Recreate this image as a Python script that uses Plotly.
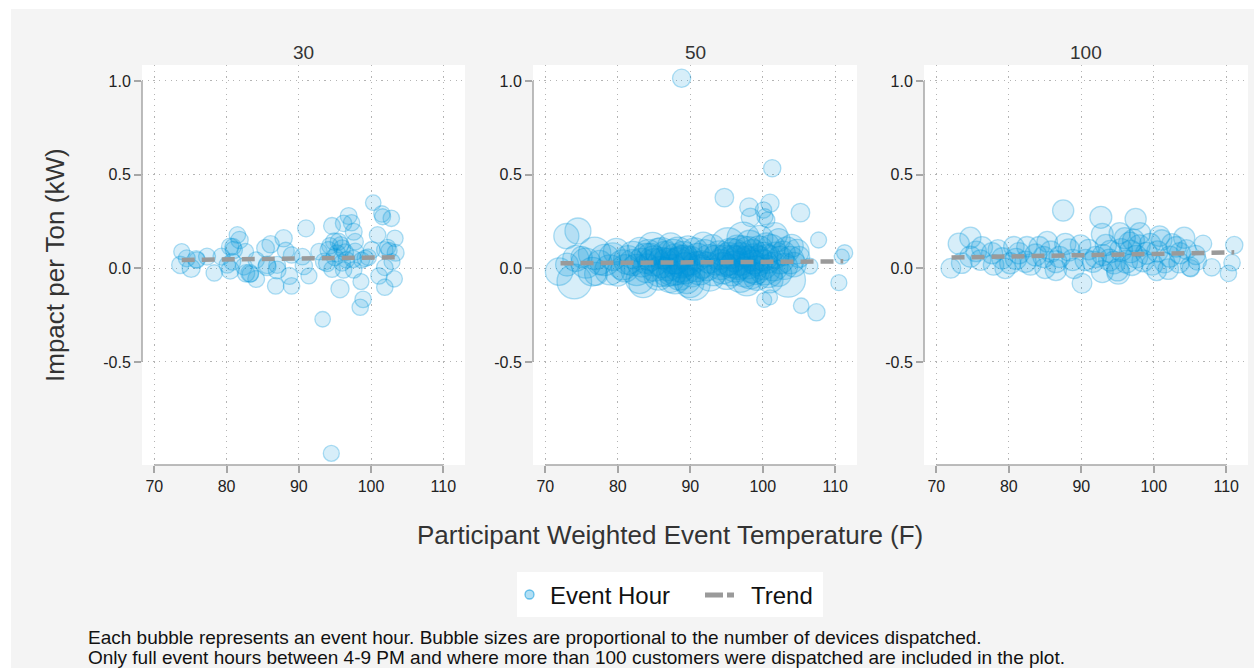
import plotly.graph_objects as go

# Panel labels (dispatch group)
panels = ["30", "50", "100"]

# Group 30: event temperature (F), impact per ton (kW), devices dispatched
temp_30 = [
    73.6, 73.8, 74.5, 75.1, 75.8, 75.9, 77.3, 78.3, 79.3, 80.1,
    80.5, 80.5, 80.8, 81.0, 81.5, 81.8, 80.9, 82.4, 82.6, 82.7,
    83.2, 83.3, 84.1, 84.1, 85.4, 86.1, 85.6, 85.6, 87.0, 87.0,
    86.8, 87.9, 88.2, 89.0, 88.7, 89.0, 90.5, 90.7, 91.0, 91.4,
    92.8, 93.5, 93.9, 94.1, 94.3, 94.6, 94.6, 94.9, 95.5, 95.8,
    95.0, 95.7, 96.0, 96.2, 96.4, 96.2, 96.9, 97.3, 97.6, 97.8,
    97.8, 97.5, 97.6, 98.7, 98.6, 98.9, 98.5, 99.2, 99.6, 100.1,
    100.3, 100.9, 101.5, 101.6, 101.9, 102.3, 102.8, 102.5, 103.3, 103.4,
    102.9, 101.9, 101.1, 101.9, 103.2, 93.3, 94.5, 95.3, 96.6, 96.0,
]
impact_30 = [
    0.018, 0.089, 0.053, 0.0, 0.048, 0.044, 0.062, -0.025, 0.062, 0.018,
    -0.009, 0.115, 0.035, 0.098, 0.178, 0.151, 0.115, 0.009, 0.089, -0.027,
    -0.027, -0.03, -0.057, 0.044, 0.107, 0.128, 0.009, 0.018, 0.018, -0.009,
    -0.094, 0.16, 0.094, 0.071, -0.041, -0.094, 0.062, 0.012, 0.213, -0.041,
    0.089, 0.035, 0.027, 0.098, 0.12, 0.226, -0.005, 0.142, 0.142, 0.125,
    0.06, -0.109, 0.107, 0.24, 0.085, -0.009, 0.279, 0.243, 0.195, 0.142,
    0.089, 0.05, -0.009, 0.044, -0.071, -0.166, -0.208, 0.053, 0.059, 0.098,
    0.35, 0.178, 0.29, 0.275, 0.098, 0.112, 0.267, 0.095, 0.16, 0.083,
    0.035, 0.005, -0.041, -0.101, -0.056, -0.272, -0.988, 0.08, 0.045, 0.03,
]
devices_30 = [
    200, 170, 190, 220, 200, 180, 190, 180, 190, 180,
    220, 200, 190, 200, 180, 200, 180, 190, 180, 200,
    210, 180, 190, 180, 210, 200, 220, 200, 190, 210,
    180, 200, 190, 180, 190, 180, 180, 200, 190, 170,
    180, 200, 190, 190, 180, 190, 180, 200, 190, 180,
    200, 220, 190, 180, 190, 180, 190, 180, 190, 180,
    190, 200, 180, 170, 170, 180, 180, 180, 180, 190,
    160, 180, 180, 170, 180, 170, 180, 170, 180, 190,
    170, 180, 180, 180, 180, 160, 170, 190, 180, 190,
]

# Group 50
temp_50 = [
    88.8, 101.3, 94.7, 98.1, 101.0, 98.3, 100.1, 100.3, 100.6, 105.2,
    72.9, 74.5, 107.7, 111.3, 110.9, 106.5, 110.5, 100.2, 101.0, 105.3,
    107.4, 71.9, 74.0, 74.2, 75.6, 76.8, 76.5, 78.2, 78.9, 79.3,
    80.7, 81.4, 82.1, 82.6, 83.0, 83.5, 83.9, 84.8, 85.1, 85.8,
    87.2, 87.6, 88.1, 88.8, 89.5, 90.6, 90.9, 90.5, 89.9, 91.8,
    91.3, 92.7, 93.6, 95.2, 94.5, 95.9, 96.9, 97.3, 98.0, 98.5,
    97.8, 99.6, 100.1, 100.3, 101.7, 102.2, 101.2, 101.5, 102.4, 103.3,
    103.8, 104.7, 103.5, 102.2, 101.0, 99.2, 73.0, 75.0, 77.5, 77.0,
    79.8, 80.0, 81.0, 82.0, 83.0, 84.0, 84.5, 85.5, 86.2, 86.5,
    86.8, 87.3, 88.0, 88.5, 89.0, 89.3, 90.0, 90.2, 91.0, 92.0,
    92.3, 93.0, 93.2, 94.0, 94.8, 95.0, 95.5, 96.2, 96.5, 97.0,
    97.5, 98.2, 98.8, 99.0, 99.5, 100.0, 100.5, 100.8, 101.8, 102.8,
    103.0, 104.0, 104.3, 105.0, 85.0, 85.6, 86.0, 86.9, 87.5, 88.3,
    88.6, 89.2, 89.7, 87.9, 94.2, 95.3, 95.7, 96.0, 96.7, 97.2,
    97.9, 98.3, 98.6, 99.3, 84.2, 83.3, 92.6, 91.6, 100.6,
]
impact_50 = [
    1.014, 0.534, 0.377, 0.326, 0.347, 0.272, 0.311, 0.275, 0.258, 0.297,
    0.172, 0.199, 0.151, 0.083, 0.062, 0.012, -0.077, -0.169, -0.155, -0.2,
    -0.235, -0.018, -0.071, 0.053, 0.027, 0.08, -0.018, 0.044, -0.009, 0.062,
    0.018, 0.044, 0.071, -0.009, -0.062, -0.08, 0.053, 0.115, 0.018, -0.018,
    -0.053, 0.062, 0.009, 0.035, -0.062, 0.089, 0.009, -0.084, -0.08, 0.124,
    -0.009, -0.045, 0.044, 0.124, 0.0, 0.035, -0.045, 0.16, 0.089, 0.009,
    -0.071, 0.16, 0.062, -0.009, 0.178, 0.151, 0.107, 0.009, 0.044, 0.098,
    0.044, 0.089, -0.062, -0.027, -0.062, -0.045, 0.02, 0.06, 0.03, -0.03,
    0.09, -0.03, 0.0, 0.03, 0.10, 0.0, 0.06, 0.09, 0.03, 0.07,
    -0.02, 0.12, 0.05, -0.04, 0.07, 0.0, 0.04, -0.03, 0.06, 0.08,
    0.01, 0.11, -0.02, 0.07, 0.04, -0.04, 0.08, 0.01, 0.10, 0.05,
    -0.02, 0.13, 0.05, -0.01, 0.10, 0.02, 0.12, -0.03, 0.07, 0.08,
    0.01, 0.12, 0.02, 0.06, 0.04, -0.04, 0.08, 0.02, -0.01, 0.08,
    0.02, 0.04, 0.10, -0.06, 0.02, 0.05, -0.01, 0.07, 0.03, 0.09,
    0.03, -0.03, 0.07, 0.04, 0.08, 0.03, 0.05, 0.02, 0.05,
]
devices_50 = [
    220, 200, 230, 230, 220, 230, 180, 170, 160, 230,
    420, 450, 170, 170, 150, 170, 170, 150, 150, 160,
    200, 500, 800, 450, 600, 700, 550, 650, 600, 500,
    600, 550, 500, 650, 500, 550, 600, 550, 700, 600,
    550, 800, 900, 700, 500, 500, 600, 700, 550, 450,
    600, 550, 600, 800, 650, 700, 650, 700, 600, 700,
    550, 450, 550, 600, 400, 350, 500, 550, 500, 450,
    500, 400, 800, 450, 450, 500, 350, 300, 400, 350,
    450, 400, 500, 450, 400, 550, 500, 450, 600, 500,
    550, 450, 600, 550, 500, 650, 550, 450, 500, 500,
    550, 450, 500, 550, 650, 500, 600, 650, 550, 700,
    600, 500, 600, 550, 500, 600, 450, 500, 450, 400,
    450, 350, 400, 300, 600, 550, 650, 700, 650, 700,
    800, 650, 500, 550, 600, 700, 650, 700, 750, 650,
    700, 600, 650, 600, 500, 550, 550, 500, 550,
]

# Group 100
temp_100 = [
    87.5, 92.7, 97.5, 74.7, 73.1, 92.9, 104.2, 106.8, 111.1, 110.8,
    110.3, 108.0, 105.1, 90.1, 72.0, 86.5, 92.9, 95.1, 76.3, 98.1,
    100.8, 105.8, 102.0, 100.4, 73.5, 74.7, 76.1, 77.7, 77.9, 79.1,
    80.7, 80.2, 81.4, 82.5, 82.3, 83.7, 84.2, 85.3, 85.8, 86.5,
    88.3, 88.8, 89.9, 90.6, 91.6, 93.4, 93.9, 95.0, 95.5, 96.7,
    97.6, 99.0, 101.1, 102.2, 103.1, 103.6, 105.0, 96.2, 95.3, 75.5,
    78.5, 79.5, 81.0, 83.0, 84.8, 85.0, 87.0, 87.8, 89.0, 91.0,
    92.0, 94.0, 94.5, 96.0, 96.8, 97.0, 98.0, 98.5, 99.5, 99.8,
    100.5, 101.5, 102.5, 103.5, 104.5, 106.0, 97.2, 93.0,
]
impact_100 = [
    0.308, 0.272, 0.263, 0.163, 0.131, 0.181, 0.163, 0.131, 0.124, 0.03,
    -0.027, 0.005, 0.0, -0.08, 0.0, -0.009, -0.018, -0.023, 0.112, 0.187,
    0.172, 0.071, -0.005, -0.013, 0.027, 0.062, 0.044, 0.08, 0.018, 0.053,
    0.115, 0.027, 0.08, 0.115, 0.035, 0.071, 0.115, 0.142, 0.089, 0.035,
    0.098, 0.044, 0.124, 0.044, 0.035, 0.124, 0.044, -0.009, 0.098, 0.133,
    0.062, 0.08, 0.151, 0.062, 0.115, 0.08, 0.009, 0.035, 0.187, 0.09,
    0.10, 0.0, 0.05, 0.02, 0.06, 0.0, 0.06, 0.13, 0.0, 0.10,
    0.06, 0.09, 0.03, 0.16, 0.09, 0.02, 0.12, 0.04, 0.13, 0.02,
    0.09, 0.03, 0.13, 0.03, 0.10, 0.04, 0.15, 0.07,
]
devices_100 = [
    300, 320, 300, 300, 300, 320, 300, 200, 200, 180,
    180, 200, 200, 260, 260, 300, 320, 350, 300, 300,
    280, 250, 280, 260, 280, 300, 280, 300, 280, 300,
    280, 300, 300, 280, 300, 320, 280, 280, 300, 320,
    320, 300, 280, 300, 300, 300, 320, 320, 340, 340,
    340, 320, 280, 300, 280, 300, 250, 340, 300, 280,
    260, 280, 300, 300, 300, 280, 300, 300, 280, 280,
    300, 320, 340, 300, 340, 320, 320, 320, 300, 300,
    300, 280, 280, 280, 260, 230, 320, 300,
]

# Linear trend endpoints per group
trend_temp_30 = [73.8, 103.4]
trend_impact_30 = [0.044, 0.059]
trend_temp_50 = [72.1, 111.1]
trend_impact_50 = [0.027, 0.037]
trend_temp_100 = [72.1, 111.1]
trend_impact_100 = [0.057, 0.085]

x_ticks = [70, 80, 90, 100, 110]
y_ticks = [-0.5, 0.0, 0.5, 1.0]
y_tick_text = ["-0.5", "0.0", "0.5", "1.0"]

legend_labels = ["Event Hour", "Trend"]

FONT = "Arial, 'Liberation Sans', sans-serif"
BUBBLE_FILL = "rgba(0,150,220,0.22)"
BUBBLE_EDGE = "rgba(0,150,220,0.45)"
TREND_COLOR = "#9a9a9a"
AXIS_COLOR = "#a6a6a6"
GRID_COLOR = "#b4b4b4"

# Figure geometry (pixels)
W, H = 1254, 668
ML, MR, MT, MB = 142, 6, 65, 203
PW, PH = W - ML - MR, H - MT - MB


def px_x(p):
    return (p - ML) / PW


def px_y(p):
    return (H - MB - p) / PH


domains = [
    [px_x(142), px_x(465)],
    [px_x(533), px_x(857)],
    [px_x(924), px_x(1248)],
]

groups = [
    (temp_30, impact_30, devices_30, trend_temp_30, trend_impact_30),
    (temp_50, impact_50, devices_50, trend_temp_50, trend_impact_50),
    (temp_100, impact_100, devices_100, trend_temp_100, trend_impact_100),
]

fig = go.Figure()

for i, (tx, ty, dev, trx, tr_y) in enumerate(groups, start=1):
    xa = "x" if i == 1 else f"x{i}"
    ya = "y" if i == 1 else f"y{i}"
    fig.add_trace(go.Scatter(
        x=tx, y=ty, mode="markers", xaxis=xa, yaxis=ya,
        marker=dict(size=dev, sizemode="area", sizeref=1.333,
                    color=BUBBLE_FILL, line=dict(color=BUBBLE_EDGE, width=1.3)),
        showlegend=False, hoverinfo="skip",
    ))
    fig.add_trace(go.Scatter(
        x=trx, y=tr_y, mode="lines", xaxis=xa, yaxis=ya,
        line=dict(color=TREND_COLOR, width=4.5, dash="13px,7px"),
        showlegend=False, hoverinfo="skip",
    ))

layout = dict(
    width=W, height=H,
    margin=dict(l=ML, r=MR, t=MT, b=MB, pad=0),
    paper_bgcolor="#f4f4f4",
    plot_bgcolor="#ffffff",
    font=dict(family=FONT, color="#222222"),
    showlegend=False,
)

shapes = [
    # white frame strips outside the gray panel area
    dict(type="rect", xref="paper", yref="paper", x0=px_x(-5), x1=px_x(11),
         y0=px_y(H + 5), y1=px_y(-5), fillcolor="#ffffff", line=dict(width=0), layer="below"),
    dict(type="rect", xref="paper", yref="paper", x0=px_x(-5), x1=px_x(W + 5),
         y0=px_y(9), y1=px_y(-5), fillcolor="#ffffff", line=dict(width=0), layer="below"),
    # legend box and keys
    dict(type="rect", xref="paper", yref="paper", x0=px_x(517), x1=px_x(823),
         y0=px_y(617), y1=px_y(572), fillcolor="#ffffff", line=dict(width=0)),
    dict(type="circle", xref="paper", yref="paper", x0=px_x(525), x1=px_x(534),
         y0=px_y(599), y1=px_y(590), fillcolor="rgba(0,150,220,0.3)",
         line=dict(color="rgba(0,150,220,0.55)", width=1.3)),
    dict(type="line", xref="paper", yref="paper", x0=px_x(705), x1=px_x(734),
         y0=px_y(595), y1=px_y(595), line=dict(color=TREND_COLOR, width=5, dash="18px,4px")),
]

annotations = []
for i, dom in enumerate(domains, start=1):
    sx = "" if i == 1 else str(i)
    layout[f"xaxis{sx}"] = dict(
        domain=dom, range=[68.3, 113.0], anchor=f"y{sx}",
        tickvals=x_ticks, ticks="outside", ticklen=7, tickwidth=1.5,
        tickcolor=AXIS_COLOR, showline=False, zeroline=False,
        showgrid=True, gridcolor=GRID_COLOR, gridwidth=1.2, griddash="1.2px,4.5px",
        tickfont=dict(size=16, color="#222222"), fixedrange=True,
    )
    layout[f"yaxis{sx}"] = dict(
        domain=[0, 1], range=[-1.05, 1.085], anchor=f"x{sx}",
        tickvals=y_ticks, ticktext=y_tick_text, ticks="outside", ticklen=7,
        tickwidth=1.5, tickcolor=AXIS_COLOR, showline=False, zeroline=False,
        showgrid=True, gridcolor=GRID_COLOR, gridwidth=1.2, griddash="1.2px,4.5px",
        tickfont=dict(size=16, color="#222222"), fixedrange=True,
    )
    # axis lines spanning the tick range only
    shapes.append(dict(type="line", xref=f"x{sx}", yref=f"y{sx} domain",
                       x0=x_ticks[0], x1=x_ticks[-1], y0=0, y1=0,
                       line=dict(color=AXIS_COLOR, width=1.5)))
    shapes.append(dict(type="line", xref=f"x{sx} domain", yref=f"y{sx}",
                       x0=0, x1=0, y0=y_ticks[0], y1=y_ticks[-1],
                       line=dict(color=AXIS_COLOR, width=1.5)))
    annotations.append(dict(
        text=panels[i - 1], xref="paper", yref="paper",
        x=(dom[0] + dom[1]) / 2, y=px_y(52), xanchor="center", yanchor="middle",
        showarrow=False, font=dict(size=19, color="#333333"),
    ))

annotations += [
    dict(text="Impact per Ton (kW)", xref="paper", yref="paper",
         x=px_x(55), y=px_y(265), xanchor="center", yanchor="middle",
         textangle=-90, showarrow=False, font=dict(size=26, color="#333333")),
    dict(text="Participant Weighted Event Temperature (F)", xref="paper", yref="paper",
         x=px_x(670), y=px_y(535), xanchor="center", yanchor="middle",
         showarrow=False, font=dict(size=26, color="#333333")),
    dict(text=legend_labels[0], xref="paper", yref="paper",
         x=px_x(548), y=px_y(595), xanchor="left", yanchor="middle",
         showarrow=False, font=dict(size=24, color="#111111")),
    dict(text=legend_labels[1], xref="paper", yref="paper",
         x=px_x(749), y=px_y(595), xanchor="left", yanchor="middle",
         showarrow=False, font=dict(size=24, color="#111111")),
    dict(text="Each bubble represents an event hour. Bubble sizes are proportional to the number of devices dispatched.",
         xref="paper", yref="paper", x=px_x(86), y=px_y(637), xanchor="left", yanchor="middle",
         showarrow=False, font=dict(size=19, color="#111111")),
    dict(text="Only full event hours between 4-9 PM and where more than 100 customers were dispatched are included in the plot.",
         xref="paper", yref="paper", x=px_x(86), y=px_y(657), xanchor="left", yanchor="middle",
         showarrow=False, font=dict(size=19, color="#111111")),
]

layout["shapes"] = shapes
layout["annotations"] = annotations
fig.update_layout(**layout)

fig.write_html("out.html")
